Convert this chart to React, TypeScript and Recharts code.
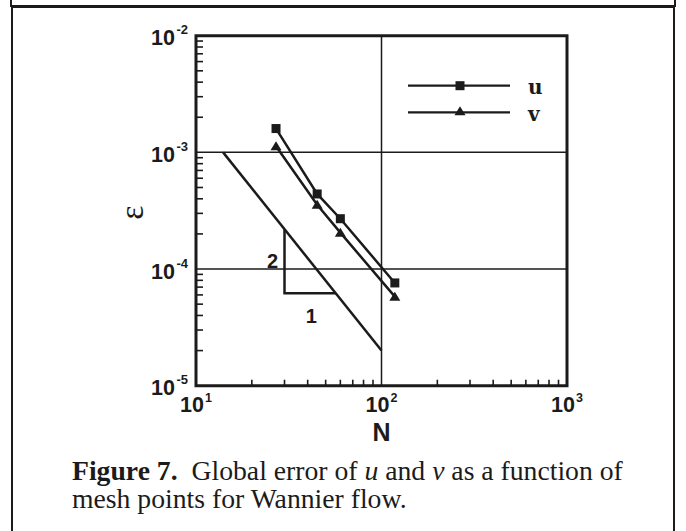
import React from "react";
import {
  LineChart,
  Line,
  XAxis,
  YAxis,
  ReferenceLine,
  ReferenceArea,
  ReferenceDot,
  Legend,
  Label,
} from "recharts";

// Mesh points N and global error for u and v
const meshN = [27, 45, 60, 118];
const errorU = [1.6e-3, 4.4e-4, 2.7e-4, 7.6e-5];
const errorV = [1.13e-3, 3.55e-4, 2.05e-4, 5.8e-5];

// second-order reference line and its slope triangle
const slopeN = [14, 100];
const slopeError = [1e-3, 2e-5];
const triangleN = [30, 30, 56.5];
const triangleError = [2.19e-4, 6.2e-5, 6.2e-5];

const xDecades = [10, 100, 1000];
const yDecades = [1e-5, 1e-4, 1e-3, 1e-2];
const minorSteps = [2, 3, 4, 5, 6, 7, 8, 9];

const legendItems = [
  { name: "u", shape: "square" },
  { name: "v", shape: "triangle" },
];

const INK = "#1b1b1b";
const SANS = '"Liberation Sans", Arial, sans-serif';
const SERIF = '"Liberation Serif", "Times New Roman", serif';

const withMinors = (decades: number[]) => [
  ...decades,
  ...decades.slice(0, -1).flatMap((d) => minorSteps.map((m) => m * d)),
];

const xTicks = withMinors(xDecades);
const yTicks = withMinors(yDecades);

const toPoints = (xs: number[], ys: number[]) =>
  xs.map((n, i) => ({ n, e: ys[i] }));

const isDecade = (v: number) => {
  const l = Math.log10(v);
  return Math.abs(l - Math.round(l)) < 1e-6;
};

function Square({ cx, cy, size = 9 }: { cx: number; cy: number; size?: number }) {
  return <rect x={cx - size / 2} y={cy - size / 2} width={size} height={size} fill={INK} />;
}

function Triangle({ cx, cy }: { cx: number; cy: number }) {
  return (
    <path
      d={`M${cx - 5.5},${cy + 4} L${cx + 5.5},${cy + 4} L${cx},${cy - 5} Z`}
      fill={INK}
    />
  );
}

function XTick(props: any) {
  const { x, y, payload } = props;
  const v = payload.value;
  if (!isDecade(v)) {
    return <line x1={x} x2={x} y1={y} y2={y - 6} stroke={INK} strokeWidth={1.6} />;
  }
  const exp = Math.round(Math.log10(v));
  return (
    <text x={x} y={y + 26} textAnchor="middle" fontFamily={SANS} fontWeight="bold" fontSize={21.5} fill={INK}>
      <tspan>10</tspan>
      <tspan dx={1} dy={-10} fontSize={12.5}>{exp}</tspan>
    </text>
  );
}

function YTick(props: any) {
  const { x, y, payload } = props;
  const v = payload.value;
  if (!isDecade(v)) {
    return <line x1={x} x2={x + 7} y1={y} y2={y} stroke={INK} strokeWidth={1.6} />;
  }
  const exp = Math.round(Math.log10(v));
  return (
    <text x={x - 8} y={y + 9.5} textAnchor="end" fontFamily={SANS} fontWeight="bold" fontSize={21.5} fill={INK}>
      <tspan>10</tspan>
      <tspan dx={1.5} dy={-11} fontSize={13}>{exp}</tspan>
    </text>
  );
}

function LegendBox() {
  return (
    <svg width={150} height={60}>
      {legendItems.map((item, i) => {
        const y = 15.7 + i * 26.6;
        return (
          <g key={item.name}>
            <line x1={8} x2={110} y1={y} y2={y} stroke={INK} strokeWidth={2.2} />
            {item.shape === "square" ? <Square cx={60} cy={y} /> : <Triangle cx={60} cy={y - 1} />}
            <text x={128} y={y + 8.5} fontFamily='"DejaVu Serif", serif' fontWeight="bold" fontSize={20} fill={INK}>
              {item.name}
            </text>
          </g>
        );
      })}
    </svg>
  );
}

export default function App() {
  return (
    <div
      style={{
        position: "absolute",
        left: 0,
        top: 0,
        width: 686,
        height: 531,
        background: "#fff",
        overflow: "hidden",
      }}
    >
      {/* panel borders */}
      <div style={{ position: "absolute", left: 10, top: -10, width: 662, height: 13, border: `2px solid ${INK}` }} />
      <div style={{ position: "absolute", left: 11, top: 6, width: 660, height: 540, border: `2px solid ${INK}` }} />

      <div style={{ position: "absolute", left: 0, top: 0 }}>
        <LineChart width={686} height={531} margin={{ top: 35.7, right: 119, bottom: 95.3, left: 136 }}>
          <XAxis
            type="number"
            dataKey="n"
            scale="log"
            domain={[10, 1000]}
            allowDataOverflow
            ticks={xTicks}
            interval={0}
            height={50}
            axisLine={false}
            tickLine={false}
            tickSize={0}
            tickMargin={0}
            tick={<XTick />}
          >
            <Label
              content={(p: any) => (
                <text
                  x={p.viewBox.x + p.viewBox.width / 2}
                  y={p.viewBox.y + 55.5}
                  textAnchor="middle"
                  fontFamily={SANS}
                  fontWeight="bold"
                  fontSize={25}
                  fill={INK}
                >
                  N
                </text>
              )}
            />
          </XAxis>
          <YAxis
            type="number"
            dataKey="e"
            scale="log"
            domain={[1e-5, 1e-2]}
            allowDataOverflow
            ticks={yTicks}
            interval={0}
            width={60}
            axisLine={false}
            tickLine={false}
            tickSize={0}
            tickMargin={0}
            tick={<YTick />}
          >
            <Label
              content={(p: any) => {
                const cx = p.viewBox.x + p.viewBox.width - 64;
                const cy = p.viewBox.y + p.viewBox.height / 2 + 2;
                return (
                  <text
                    x={cx}
                    y={cy}
                    transform={`rotate(-90 ${cx} ${cy})`}
                    textAnchor="middle"
                    dominantBaseline="central"
                    fontFamily={SERIF}
                    fontSize={34}
                    fill={INK}
                  >
                    ε
                  </text>
                );
              }}
            />
          </YAxis>

          <ReferenceLine y={1e-3} stroke={INK} strokeWidth={1.5} />
          <ReferenceLine y={1e-4} stroke={INK} strokeWidth={1.5} />
          <ReferenceLine x={100} stroke={INK} strokeWidth={1.5} />

          <Line
            data={toPoints(slopeN, slopeError)}
            dataKey="e"
            stroke={INK}
            strokeWidth={2.5}
            dot={false}
            isAnimationActive={false}
            legendType="none"
          />
          <Line
            data={toPoints(triangleN, triangleError)}
            dataKey="e"
            stroke={INK}
            strokeWidth={2.5}
            dot={false}
            isAnimationActive={false}
            legendType="none"
          />
          <Line
            name="u"
            data={toPoints(meshN, errorU)}
            dataKey="e"
            stroke={INK}
            strokeWidth={2.5}
            dot={(p: any) => <Square key={`u-${p.index}`} cx={p.cx} cy={p.cy} />}
            isAnimationActive={false}
          />
          <Line
            name="v"
            data={toPoints(meshN, errorV)}
            dataKey="e"
            stroke={INK}
            strokeWidth={2.5}
            dot={(p: any) => <Triangle key={`v-${p.index}`} cx={p.cx} cy={p.cy} />}
            isAnimationActive={false}
          />

          <ReferenceDot
            x={25.9}
            y={1.173e-4}
            r={0}
            fill="none"
            stroke="none"
            label={{ value: "2", position: "center", fontFamily: SANS, fontWeight: "bold", fontSize: 20, fill: INK }}
          />
          <ReferenceDot
            x={41.8}
            y={3.96e-5}
            r={0}
            fill="none"
            stroke="none"
            label={{ value: "1", position: "center", fontFamily: SANS, fontWeight: "bold", fontSize: 20, fill: INK }}
          />

          <ReferenceArea x1={10} x2={1000} y1={1e-5} y2={1e-2} fill="none" stroke={INK} strokeWidth={3} />

          <Legend
            layout="horizontal"
            align="center"
            verticalAlign="middle"
            content={() => <LegendBox />}
            wrapperStyle={{ position: "absolute", left: 400, top: 70, width: 150, height: 60 }}
          />
        </LineChart>
      </div>

      <div
        style={{
          position: "absolute",
          left: 72,
          top: 456.5,
          fontFamily: SERIF,
          fontSize: 27.7,
          lineHeight: "28px",
          color: INK,
          whiteSpace: "nowrap",
        }}
      >
        <b>Figure 7.</b>&nbsp; Global error of <i>u</i> and <i>v</i> as a function of
        <br />
        mesh points for Wannier flow.
      </div>
    </div>
  );
}
